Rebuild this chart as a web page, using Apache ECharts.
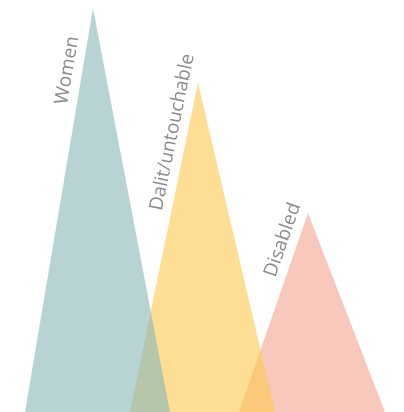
<!DOCTYPE html>
<html>
<head>
<meta charset="utf-8">
<script src="https://cdn.jsdelivr.net/npm/echarts@6/dist/echarts.min.js"></script>
<style>
  html, body { margin: 0; padding: 0; background: #fff; }
  #chart { width: 404px; height: 412px; }
</style>
</head>
<body>
<div id="chart"></div>
<script>
// groups, drawn back to front is reversed later
const groups = ['Women', 'Dalit/untouchable', 'Disabled'];
const peakX = [93, 198, 308];
const baseLeft = [25, 130, 239];
const baseRight = [170, 275, 385];
const heights = [98, 80, 48.3];
const colors = ['#8bb8ba', '#fcca52', '#f4a693'];

const chart = echarts.init(document.getElementById('chart'), null, { renderer: 'canvas' });

// Disabled first so Women sits on top
const data = groups.map((g, i) => [peakX[i], heights[i], baseLeft[i], baseRight[i], i]).reverse();

function renderItem(params, api) {
  const idx = api.value(4);
  const top = api.coord([api.value(0), api.value(1)]);
  const bl = api.coord([api.value(2), 0]);
  const br = api.coord([api.value(3), 0]);

  // label runs along the left edge, a bit below the peak
  const dx = top[0] - bl[0];
  const dy = top[1] - bl[1];
  const len = Math.sqrt(dx * dx + dy * dy);
  const ux = dx / len, uy = dy / len;
  const t = 0.16;
  const ex = top[0] - dx * t;
  const ey = top[1] - dy * t;
  const nx = uy, ny = -ux;
  const off = 15;

  return {
    type: 'group',
    children: [
      {
        type: 'polygon',
        shape: { points: [top, br, bl] },
        style: { fill: colors[idx], opacity: 0.62 }
      },
      {
        type: 'text',
        x: ex + nx * off,
        y: ey + ny * off,
        rotation: Math.atan2(-dy, dx),
        style: {
          text: groups[idx],
          fill: '#8c8c8c',
          font: 'normal 19px "Open Sans", Lato, sans-serif',
          align: 'center',
          verticalAlign: 'middle',
          textAlign: 'center',
          textVerticalAlign: 'middle'
        }
      }
    ]
  };
}

chart.setOption({
  animation: false,
  grid: { left: 0, right: 0, top: 0, bottom: 0 },
  xAxis: { type: 'value', min: 0, max: 404, show: false },
  yAxis: { type: 'value', min: 0, max: 100, show: false },
  series: [{
    type: 'custom',
    renderItem: renderItem,
    data: data,
    silent: true
  }]
});
</script>
</body>
</html>
